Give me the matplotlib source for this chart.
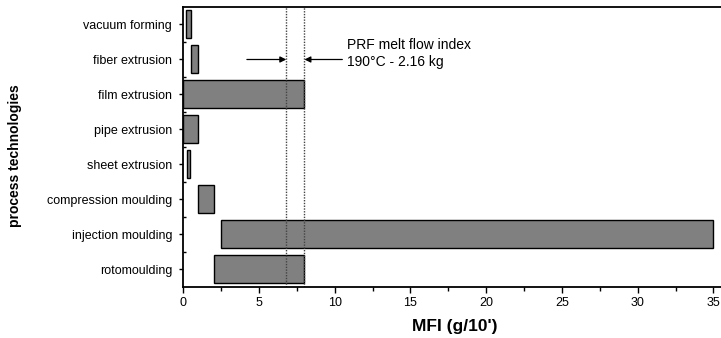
import matplotlib
matplotlib.use("Agg")
import matplotlib.pyplot as plt
from matplotlib.ticker import MultipleLocator, FixedLocator

plt.rcParams["font.family"] = ["Liberation Sans", "DejaVu Sans"]

# processes, bottom to top
processes = [
    "rotomoulding",
    "injection moulding",
    "compression moulding",
    "sheet extrusion",
    "pipe extrusion",
    "film extrusion",
    "fiber extrusion",
    "vacuum forming",
]
mfi_low = [2.0, 2.5, 1.0, 0.25, 0.0, 0.0, 0.5, 0.2]
mfi_high = [8.0, 35.0, 2.0, 0.45, 1.0, 8.0, 1.0, 0.5]

# PRF melt flow index range
prf_lines = [6.8, 8.0]
prf_text = ["PRF melt flow index", "190\u00b0C - 2.16 kg"]

fig = plt.figure(figsize=(7.21, 3.38), dpi=100)
ax = fig.add_axes([0.2542, 0.1509, 0.7458, 0.8284])

ypos = list(range(len(processes)))
widths = [h - l for l, h in zip(mfi_low, mfi_high)]
ax.barh(ypos, widths, left=mfi_low, height=0.8,
        color="#808080", edgecolor="black", linewidth=1)

for xv in prf_lines:
    ax.axvline(xv, color="#444444", linestyle=(0, (1, 1)), linewidth=1)

# arrows pointing at the PRF range
arrow_y = 6.0
ax.annotate("", xy=(prf_lines[0], arrow_y), xytext=(4.2, arrow_y),
            arrowprops=dict(arrowstyle="-|>", color="black", lw=0.9,
                            mutation_scale=9, shrinkA=0, shrinkB=0))
ax.annotate("", xy=(prf_lines[1], arrow_y), xytext=(10.5, arrow_y),
            arrowprops=dict(arrowstyle="-|>", color="black", lw=0.9,
                            mutation_scale=9, shrinkA=0, shrinkB=0))
ax.text(10.8, 6.42, prf_text[0], fontsize=10, va="center", ha="left")
ax.text(10.8, 5.93, prf_text[1], fontsize=10, va="center", ha="left")

ax.set_xlim(0, 35.5)
ax.set_ylim(-0.5, 7.5)

ax.xaxis.set_major_locator(MultipleLocator(5))
ax.xaxis.set_minor_locator(MultipleLocator(2.5))
ax.set_yticks(ypos)
ax.set_yticklabels(processes)
ax.yaxis.set_minor_locator(FixedLocator([y + 0.5 for y in ypos[:-1]]))

ax.tick_params(axis="x", which="major", direction="out", length=4, width=1,
               labelsize=9, pad=3)
ax.tick_params(axis="x", which="minor", direction="out", length=3, width=1)
ax.tick_params(axis="y", which="major", direction="out", length=3, width=1,
               labelsize=9, pad=5)
ax.tick_params(axis="y", which="minor", direction="in", length=2, width=1)

ax.spines["right"].set_visible(False)
for s in ["left", "bottom", "top"]:
    ax.spines[s].set_linewidth(1.3)

ax.set_xlabel("MFI (g/10')", fontsize=12.5, fontweight="bold")
ax.xaxis.set_label_coords(0.505, -0.115)
ax.set_ylabel("process technologies", fontsize=10, fontweight="bold")
ax.yaxis.set_label_coords(-0.30, 0.47)

fig.savefig("out.png", dpi=100)
